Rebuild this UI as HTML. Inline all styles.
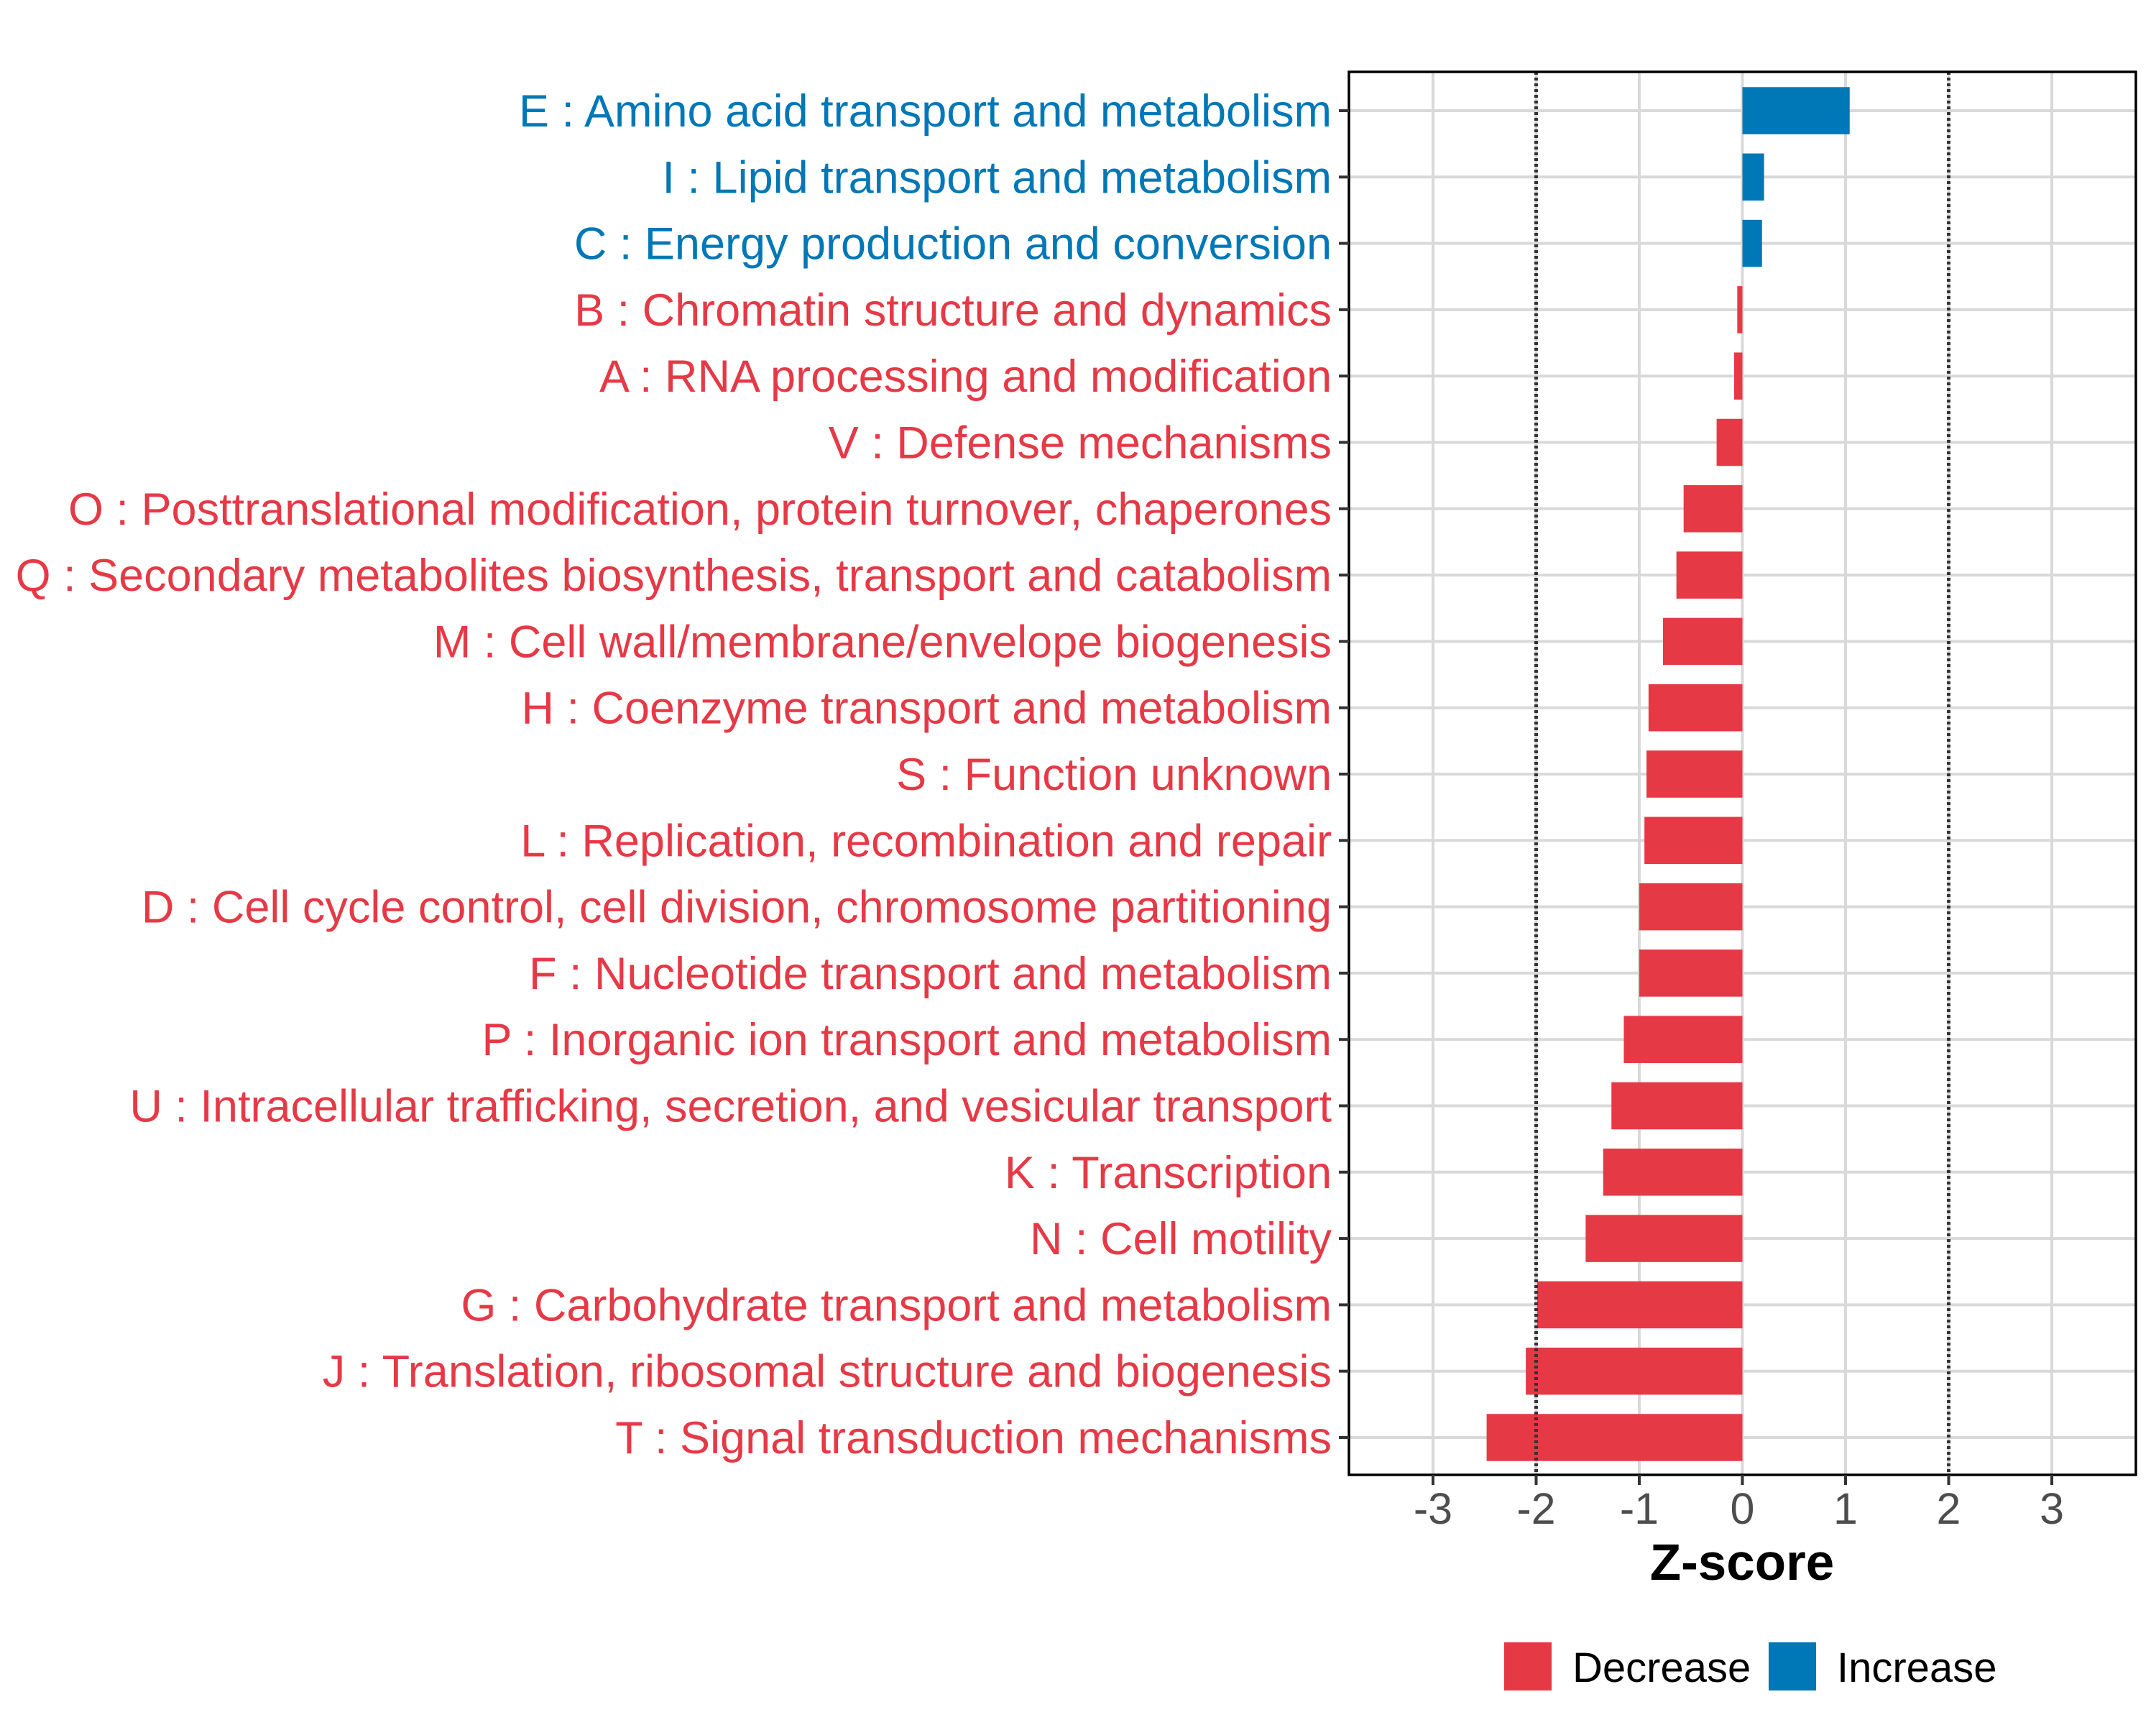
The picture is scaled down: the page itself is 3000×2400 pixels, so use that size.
<!DOCTYPE html>
<html><head><meta charset="utf-8"><style>
html,body{margin:0;padding:0;background:#fff}
svg{display:block;font-family:"Liberation Sans",Arial,sans-serif}
</style></head><body>
<svg id="chart" width="3000" height="2400" viewBox="0 0 3000 2400">
<rect x="0" y="0" width="3000" height="2400" fill="#fff"/>
<g id="grid"></g>
<g id="bars"></g>
<g id="ref"></g>
<rect x="1877" y="100" width="1095" height="1952" fill="none" stroke="#000" stroke-width="3.5"/>
<g id="ylabels"></g>
<g id="xticks"></g>
<text x="2424" y="2198" text-anchor="middle" font-size="71" font-weight="bold" fill="#000">Z-score</text>
<g>
<rect x="2093" y="2285" width="66" height="67" fill="#E63946"/>
<text x="2188" y="2340" font-size="58" fill="#000">Decrease</text>
<rect x="2461" y="2285" width="66" height="67" fill="#0077B6"/>
<text x="2556" y="2340" font-size="58" fill="#000">Increase</text>
</g>
</svg>
<script>
const categories = ["E : Amino acid transport and metabolism","I : Lipid transport and metabolism","C : Energy production and conversion","B : Chromatin structure and dynamics","A : RNA processing and modification","V : Defense mechanisms","O : Posttranslational modification, protein turnover, chaperones","Q : Secondary metabolites biosynthesis, transport and catabolism","M : Cell wall/membrane/envelope biogenesis","H : Coenzyme transport and metabolism","S : Function unknown","L : Replication, recombination and repair","D : Cell cycle control, cell division, chromosome partitioning","F : Nucleotide transport and metabolism","P : Inorganic ion transport and metabolism","U : Intracellular trafficking, secretion, and vesicular transport","K : Transcription","N : Cell motility","G : Carbohydrate transport and metabolism","J : Translation, ribosomal structure and biogenesis","T : Signal transduction mechanisms"];
const zscores = [1.04,0.21,0.19,-0.05,-0.08,-0.25,-0.57,-0.64,-0.77,-0.91,-0.93,-0.95,-1.0,-1.0,-1.15,-1.27,-1.35,-1.52,-1.99,-2.1,-2.48];
const xTicks = [-3,-2,-1,0,1,2,3];
const xTickLabels = ["-3","-2","-1","0","1","2","3"];
const refLines = [-2,2];

const NS="http://www.w3.org/2000/svg";
const L=1877,R=2972,T=100,B=2052,XMIN=-3.815,XMAX=3.815;
function xs(v){return L+(v-XMIN)/(XMAX-XMIN)*(R-L);}
const step=(2000-154)/(categories.length-1);
function ys(i){return 154+i*step;}
const RED="#E63946",BLUE="#0077B6";
function mk(tag,attrs,parent){const e=document.createElementNS(NS,tag);for(const k in attrs)e.setAttribute(k,attrs[k]);document.getElementById(parent).appendChild(e);return e;}

xTicks.forEach((t,i)=>{
  const g=mk('line',{x1:xs(t),x2:xs(t),y1:T,y2:B,stroke:'#d9d9d9','stroke-width':4},'grid');
  
  
  const tk=mk('line',{x1:xs(t),x2:xs(t),y1:B,y2:B+14,stroke:'#333','stroke-width':4},'xticks');
  
  
  const tl=mk('text',{x:xs(t),y:2120,'text-anchor':'middle','font-size':61,fill:'#4d4d4d'},'xticks');
  tl.textContent=xTickLabels[i];
  
  
});
categories.forEach((c,i)=>{
  const y=ys(i);
  const g=mk('line',{x1:L,x2:R,y1:y,y2:y,stroke:'#d9d9d9','stroke-width':4},'grid');
  
  
  const v=zscores[i];
  const h=step*0.71;
  const b=mk('rect',{x:Math.min(xs(0),xs(v)),y:y-h/2,width:Math.abs(xs(v)-xs(0)),height:h,fill:v>=0?BLUE:RED},'bars');
  
  
  const tk=mk('line',{x1:L-14,x2:L,y1:y,y2:y,stroke:'#333','stroke-width':4},'ylabels');
  
  
  const t=mk('text',{x:1853,y:y+22,'text-anchor':'end','font-size':63,fill:v>=0?BLUE:RED},'ylabels');
  t.textContent=c;
  
  
});
refLines.forEach(r=>{
  const l=mk('line',{x1:xs(r),x2:xs(r),y1:T,y2:B,stroke:'#333','stroke-width':5,'stroke-dasharray':'4 4'},'ref');
  
  
});
</script>
</body></html>
